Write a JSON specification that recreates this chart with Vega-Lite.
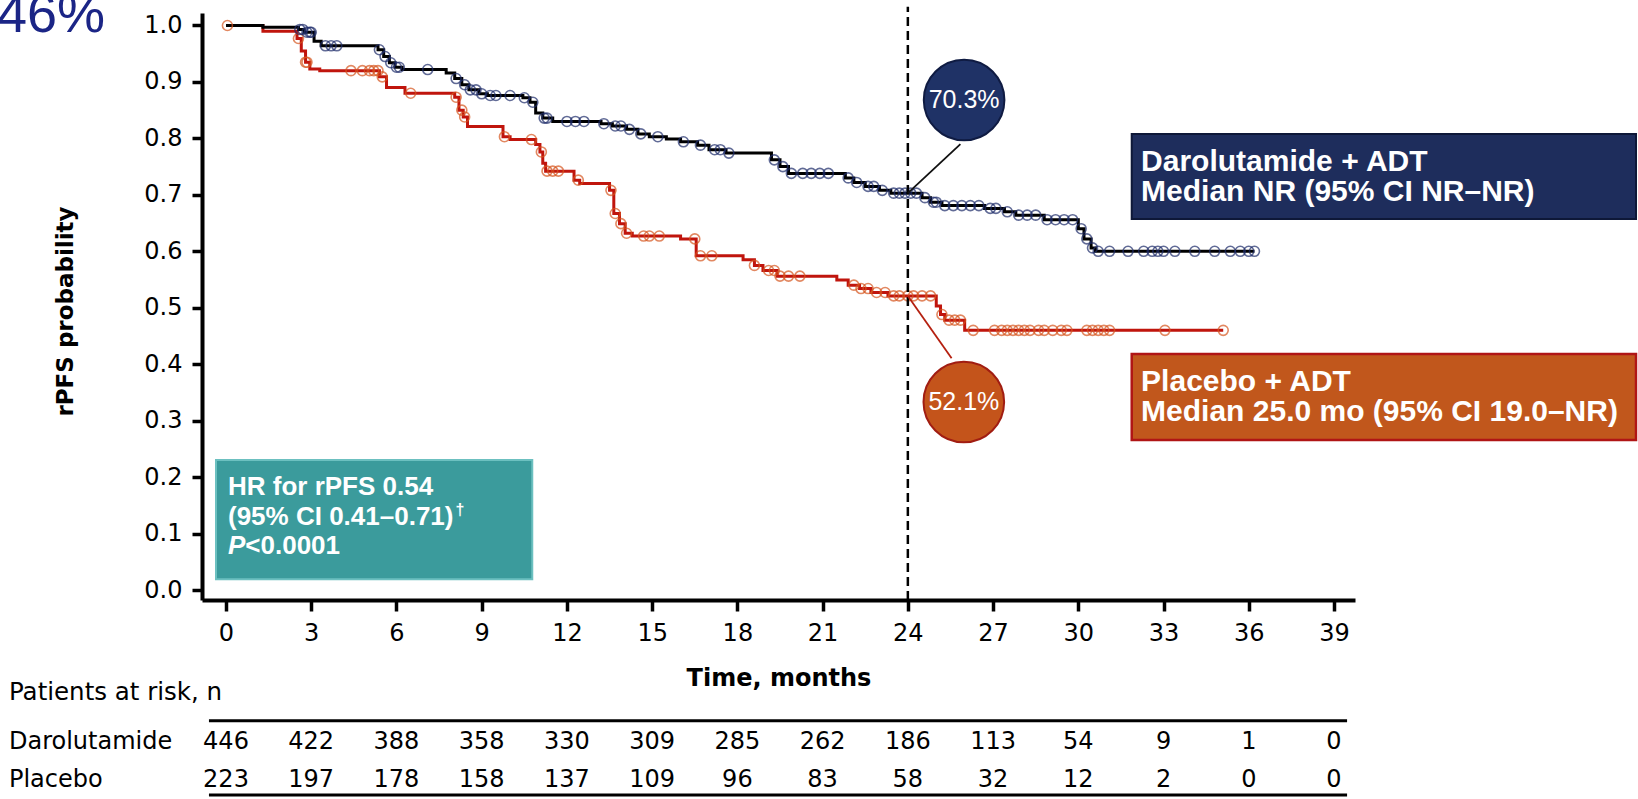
{
  "$schema": "https://vega.github.io/schema/vega-lite/v6.json",
  "width": 1153,
  "height": 587,
  "autosize": {"type": "none"},
  "padding": {"left": 202, "top": 13, "right": 283, "bottom": 199},
  "background": "white",
  "config": {"view": {"stroke": null}, "font": "DejaVu Sans"},
  "datasets": {
    "curve": [
      {"arm": "Placebo", "month": 0, "surv": 1.0},
      {"arm": "Placebo", "month": 1.3, "surv": 0.99},
      {"arm": "Placebo", "month": 2.5, "surv": 0.977},
      {"arm": "Placebo", "month": 2.65, "surv": 0.955},
      {"arm": "Placebo", "month": 2.8, "surv": 0.935},
      {"arm": "Placebo", "month": 2.95, "surv": 0.923},
      {"arm": "Placebo", "month": 3.3, "surv": 0.92},
      {"arm": "Placebo", "month": 5.4, "surv": 0.909},
      {"arm": "Placebo", "month": 5.65, "surv": 0.89},
      {"arm": "Placebo", "month": 6.3, "surv": 0.88},
      {"arm": "Placebo", "month": 8.05, "surv": 0.873},
      {"arm": "Placebo", "month": 8.2, "surv": 0.85},
      {"arm": "Placebo", "month": 8.35, "surv": 0.838},
      {"arm": "Placebo", "month": 8.5, "surv": 0.821},
      {"arm": "Placebo", "month": 9.75, "surv": 0.803},
      {"arm": "Placebo", "month": 10.0, "surv": 0.798},
      {"arm": "Placebo", "month": 10.9, "surv": 0.789},
      {"arm": "Placebo", "month": 11.05, "surv": 0.776},
      {"arm": "Placebo", "month": 11.15, "surv": 0.756},
      {"arm": "Placebo", "month": 11.25, "surv": 0.742},
      {"arm": "Placebo", "month": 12.25, "surv": 0.726},
      {"arm": "Placebo", "month": 12.45, "surv": 0.72},
      {"arm": "Placebo", "month": 13.5, "surv": 0.708},
      {"arm": "Placebo", "month": 13.65, "surv": 0.667},
      {"arm": "Placebo", "month": 13.85, "surv": 0.649},
      {"arm": "Placebo", "month": 14.05, "surv": 0.632},
      {"arm": "Placebo", "month": 14.3, "surv": 0.627},
      {"arm": "Placebo", "month": 16.0, "surv": 0.622},
      {"arm": "Placebo", "month": 16.55, "surv": 0.592},
      {"arm": "Placebo", "month": 18.2, "surv": 0.585},
      {"arm": "Placebo", "month": 18.6, "surv": 0.575},
      {"arm": "Placebo", "month": 18.9, "surv": 0.566},
      {"arm": "Placebo", "month": 19.4, "surv": 0.556},
      {"arm": "Placebo", "month": 21.5, "surv": 0.549},
      {"arm": "Placebo", "month": 21.9, "surv": 0.54},
      {"arm": "Placebo", "month": 22.3, "surv": 0.534},
      {"arm": "Placebo", "month": 22.7, "surv": 0.527},
      {"arm": "Placebo", "month": 23.3, "surv": 0.521},
      {"arm": "Placebo", "month": 25.0, "surv": 0.503},
      {"arm": "Placebo", "month": 25.15, "surv": 0.488},
      {"arm": "Placebo", "month": 25.3, "surv": 0.478},
      {"arm": "Placebo", "month": 26.0, "surv": 0.46},
      {"arm": "Placebo", "month": 35.1, "surv": 0.46},
      {"arm": "Darolutamide", "month": 0, "surv": 1.0},
      {"arm": "Darolutamide", "month": 1.3, "surv": 0.997},
      {"arm": "Darolutamide", "month": 2.55, "surv": 0.993},
      {"arm": "Darolutamide", "month": 2.75, "surv": 0.988},
      {"arm": "Darolutamide", "month": 3.1, "surv": 0.972},
      {"arm": "Darolutamide", "month": 3.35, "surv": 0.964},
      {"arm": "Darolutamide", "month": 5.35, "surv": 0.957},
      {"arm": "Darolutamide", "month": 5.55, "surv": 0.945},
      {"arm": "Darolutamide", "month": 5.75, "surv": 0.934},
      {"arm": "Darolutamide", "month": 5.95, "surv": 0.926},
      {"arm": "Darolutamide", "month": 6.2, "surv": 0.922},
      {"arm": "Darolutamide", "month": 7.75, "surv": 0.916},
      {"arm": "Darolutamide", "month": 8.05, "surv": 0.906},
      {"arm": "Darolutamide", "month": 8.3, "surv": 0.895},
      {"arm": "Darolutamide", "month": 8.55, "surv": 0.886},
      {"arm": "Darolutamide", "month": 8.9, "surv": 0.879},
      {"arm": "Darolutamide", "month": 9.2, "surv": 0.876},
      {"arm": "Darolutamide", "month": 10.45, "surv": 0.872},
      {"arm": "Darolutamide", "month": 10.7, "surv": 0.864},
      {"arm": "Darolutamide", "month": 10.9, "surv": 0.845},
      {"arm": "Darolutamide", "month": 11.15, "surv": 0.836},
      {"arm": "Darolutamide", "month": 11.5, "surv": 0.83},
      {"arm": "Darolutamide", "month": 13.2, "surv": 0.826},
      {"arm": "Darolutamide", "month": 13.6, "surv": 0.822},
      {"arm": "Darolutamide", "month": 14.1, "surv": 0.816},
      {"arm": "Darolutamide", "month": 14.5, "surv": 0.808},
      {"arm": "Darolutamide", "month": 14.9, "surv": 0.803},
      {"arm": "Darolutamide", "month": 15.5, "surv": 0.799},
      {"arm": "Darolutamide", "month": 16.0, "surv": 0.794},
      {"arm": "Darolutamide", "month": 16.6, "surv": 0.788},
      {"arm": "Darolutamide", "month": 17.0, "surv": 0.78},
      {"arm": "Darolutamide", "month": 17.6, "surv": 0.774},
      {"arm": "Darolutamide", "month": 19.2, "surv": 0.762},
      {"arm": "Darolutamide", "month": 19.5, "surv": 0.75},
      {"arm": "Darolutamide", "month": 19.8, "surv": 0.738},
      {"arm": "Darolutamide", "month": 21.8, "surv": 0.73},
      {"arm": "Darolutamide", "month": 22.1, "surv": 0.722},
      {"arm": "Darolutamide", "month": 22.5, "surv": 0.715},
      {"arm": "Darolutamide", "month": 23.0, "surv": 0.708},
      {"arm": "Darolutamide", "month": 23.4, "surv": 0.703},
      {"arm": "Darolutamide", "month": 24.5, "surv": 0.695},
      {"arm": "Darolutamide", "month": 24.8, "surv": 0.687},
      {"arm": "Darolutamide", "month": 25.2, "surv": 0.681},
      {"arm": "Darolutamide", "month": 26.7, "surv": 0.676},
      {"arm": "Darolutamide", "month": 27.4, "surv": 0.67},
      {"arm": "Darolutamide", "month": 27.8, "surv": 0.664},
      {"arm": "Darolutamide", "month": 28.8, "surv": 0.656},
      {"arm": "Darolutamide", "month": 30.0, "surv": 0.64},
      {"arm": "Darolutamide", "month": 30.2, "surv": 0.622},
      {"arm": "Darolutamide", "month": 30.45, "surv": 0.606},
      {"arm": "Darolutamide", "month": 30.6, "surv": 0.6},
      {"arm": "Darolutamide", "month": 36.2, "surv": 0.6}
    ],
    "censor": [
      {"arm": "Placebo", "month": 0.05, "surv": 1.0},
      {"arm": "Placebo", "month": 2.55, "surv": 0.977},
      {"arm": "Placebo", "month": 2.8, "surv": 0.935},
      {"arm": "Placebo", "month": 2.85, "surv": 0.935},
      {"arm": "Placebo", "month": 4.4, "surv": 0.92},
      {"arm": "Placebo", "month": 4.8, "surv": 0.92},
      {"arm": "Placebo", "month": 5.05, "surv": 0.92},
      {"arm": "Placebo", "month": 5.2, "surv": 0.92},
      {"arm": "Placebo", "month": 5.35, "surv": 0.92},
      {"arm": "Placebo", "month": 5.5, "surv": 0.909},
      {"arm": "Placebo", "month": 6.5, "surv": 0.88},
      {"arm": "Placebo", "month": 8.1, "surv": 0.873},
      {"arm": "Placebo", "month": 8.3, "surv": 0.85},
      {"arm": "Placebo", "month": 8.4, "surv": 0.838},
      {"arm": "Placebo", "month": 9.8, "surv": 0.803},
      {"arm": "Placebo", "month": 10.75, "surv": 0.798},
      {"arm": "Placebo", "month": 11.1, "surv": 0.776},
      {"arm": "Placebo", "month": 11.3, "surv": 0.742},
      {"arm": "Placebo", "month": 11.5, "surv": 0.742},
      {"arm": "Placebo", "month": 11.7, "surv": 0.742},
      {"arm": "Placebo", "month": 12.4, "surv": 0.726},
      {"arm": "Placebo", "month": 13.55, "surv": 0.708},
      {"arm": "Placebo", "month": 13.7, "surv": 0.667},
      {"arm": "Placebo", "month": 13.9, "surv": 0.649},
      {"arm": "Placebo", "month": 14.1, "surv": 0.632},
      {"arm": "Placebo", "month": 14.7, "surv": 0.627},
      {"arm": "Placebo", "month": 14.9, "surv": 0.627},
      {"arm": "Placebo", "month": 15.25, "surv": 0.627},
      {"arm": "Placebo", "month": 16.5, "surv": 0.622},
      {"arm": "Placebo", "month": 16.7, "surv": 0.592},
      {"arm": "Placebo", "month": 17.1, "surv": 0.592},
      {"arm": "Placebo", "month": 18.6, "surv": 0.575},
      {"arm": "Placebo", "month": 19.1, "surv": 0.566},
      {"arm": "Placebo", "month": 19.3, "surv": 0.566},
      {"arm": "Placebo", "month": 19.5, "surv": 0.556},
      {"arm": "Placebo", "month": 19.8, "surv": 0.556},
      {"arm": "Placebo", "month": 20.2, "surv": 0.556},
      {"arm": "Placebo", "month": 22.1, "surv": 0.54},
      {"arm": "Placebo", "month": 22.35, "surv": 0.534},
      {"arm": "Placebo", "month": 22.6, "surv": 0.534},
      {"arm": "Placebo", "month": 22.9, "surv": 0.527},
      {"arm": "Placebo", "month": 23.2, "surv": 0.527},
      {"arm": "Placebo", "month": 23.5, "surv": 0.521},
      {"arm": "Placebo", "month": 23.7, "surv": 0.521},
      {"arm": "Placebo", "month": 24.0, "surv": 0.521},
      {"arm": "Placebo", "month": 24.2, "surv": 0.521},
      {"arm": "Placebo", "month": 24.5, "surv": 0.521},
      {"arm": "Placebo", "month": 24.8, "surv": 0.521},
      {"arm": "Placebo", "month": 25.2, "surv": 0.488},
      {"arm": "Placebo", "month": 25.45, "surv": 0.478},
      {"arm": "Placebo", "month": 25.65, "surv": 0.478},
      {"arm": "Placebo", "month": 25.85, "surv": 0.478},
      {"arm": "Placebo", "month": 26.3, "surv": 0.46},
      {"arm": "Placebo", "month": 27.05, "surv": 0.46},
      {"arm": "Placebo", "month": 27.3, "surv": 0.46},
      {"arm": "Placebo", "month": 27.5, "surv": 0.46},
      {"arm": "Placebo", "month": 27.7, "surv": 0.46},
      {"arm": "Placebo", "month": 27.9, "surv": 0.46},
      {"arm": "Placebo", "month": 28.1, "surv": 0.46},
      {"arm": "Placebo", "month": 28.3, "surv": 0.46},
      {"arm": "Placebo", "month": 28.6, "surv": 0.46},
      {"arm": "Placebo", "month": 28.8, "surv": 0.46},
      {"arm": "Placebo", "month": 29.1, "surv": 0.46},
      {"arm": "Placebo", "month": 29.4, "surv": 0.46},
      {"arm": "Placebo", "month": 29.6, "surv": 0.46},
      {"arm": "Placebo", "month": 30.3, "surv": 0.46},
      {"arm": "Placebo", "month": 30.5, "surv": 0.46},
      {"arm": "Placebo", "month": 30.7, "surv": 0.46},
      {"arm": "Placebo", "month": 30.9, "surv": 0.46},
      {"arm": "Placebo", "month": 31.1, "surv": 0.46},
      {"arm": "Placebo", "month": 33.05, "surv": 0.46},
      {"arm": "Placebo", "month": 35.1, "surv": 0.46},
      {"arm": "Darolutamide", "month": 2.6, "surv": 0.993},
      {"arm": "Darolutamide", "month": 2.7, "surv": 0.993},
      {"arm": "Darolutamide", "month": 2.85, "surv": 0.988},
      {"arm": "Darolutamide", "month": 2.95, "surv": 0.988},
      {"arm": "Darolutamide", "month": 3.0, "surv": 0.988},
      {"arm": "Darolutamide", "month": 3.5, "surv": 0.964},
      {"arm": "Darolutamide", "month": 3.7, "surv": 0.964},
      {"arm": "Darolutamide", "month": 3.9, "surv": 0.964},
      {"arm": "Darolutamide", "month": 5.4, "surv": 0.957},
      {"arm": "Darolutamide", "month": 5.6, "surv": 0.945},
      {"arm": "Darolutamide", "month": 5.8, "surv": 0.934},
      {"arm": "Darolutamide", "month": 6.0, "surv": 0.926},
      {"arm": "Darolutamide", "month": 6.1, "surv": 0.926},
      {"arm": "Darolutamide", "month": 7.1, "surv": 0.922},
      {"arm": "Darolutamide", "month": 8.1, "surv": 0.906},
      {"arm": "Darolutamide", "month": 8.4, "surv": 0.895},
      {"arm": "Darolutamide", "month": 8.6, "surv": 0.886},
      {"arm": "Darolutamide", "month": 8.8, "surv": 0.886},
      {"arm": "Darolutamide", "month": 9.0, "surv": 0.879},
      {"arm": "Darolutamide", "month": 9.3, "surv": 0.876},
      {"arm": "Darolutamide", "month": 9.5, "surv": 0.876},
      {"arm": "Darolutamide", "month": 10.0, "surv": 0.876},
      {"arm": "Darolutamide", "month": 10.5, "surv": 0.872},
      {"arm": "Darolutamide", "month": 10.8, "surv": 0.864},
      {"arm": "Darolutamide", "month": 11.2, "surv": 0.836},
      {"arm": "Darolutamide", "month": 11.3, "surv": 0.836},
      {"arm": "Darolutamide", "month": 12.0, "surv": 0.83},
      {"arm": "Darolutamide", "month": 12.3, "surv": 0.83},
      {"arm": "Darolutamide", "month": 12.6, "surv": 0.83},
      {"arm": "Darolutamide", "month": 13.3, "surv": 0.826},
      {"arm": "Darolutamide", "month": 13.7, "surv": 0.822},
      {"arm": "Darolutamide", "month": 13.9, "surv": 0.822},
      {"arm": "Darolutamide", "month": 14.2, "surv": 0.816},
      {"arm": "Darolutamide", "month": 14.6, "surv": 0.808},
      {"arm": "Darolutamide", "month": 15.2, "surv": 0.803},
      {"arm": "Darolutamide", "month": 16.1, "surv": 0.794},
      {"arm": "Darolutamide", "month": 16.7, "surv": 0.788},
      {"arm": "Darolutamide", "month": 17.2, "surv": 0.78},
      {"arm": "Darolutamide", "month": 17.4, "surv": 0.78},
      {"arm": "Darolutamide", "month": 17.7, "surv": 0.774},
      {"arm": "Darolutamide", "month": 19.3, "surv": 0.762},
      {"arm": "Darolutamide", "month": 19.6, "surv": 0.75},
      {"arm": "Darolutamide", "month": 19.9, "surv": 0.738},
      {"arm": "Darolutamide", "month": 20.3, "surv": 0.738},
      {"arm": "Darolutamide", "month": 20.6, "surv": 0.738},
      {"arm": "Darolutamide", "month": 20.9, "surv": 0.738},
      {"arm": "Darolutamide", "month": 21.2, "surv": 0.738},
      {"arm": "Darolutamide", "month": 21.9, "surv": 0.73},
      {"arm": "Darolutamide", "month": 22.2, "surv": 0.722},
      {"arm": "Darolutamide", "month": 22.6, "surv": 0.715},
      {"arm": "Darolutamide", "month": 22.8, "surv": 0.715},
      {"arm": "Darolutamide", "month": 23.1, "surv": 0.708},
      {"arm": "Darolutamide", "month": 23.5, "surv": 0.703},
      {"arm": "Darolutamide", "month": 23.7, "surv": 0.703},
      {"arm": "Darolutamide", "month": 23.9, "surv": 0.703},
      {"arm": "Darolutamide", "month": 24.1, "surv": 0.703},
      {"arm": "Darolutamide", "month": 24.3, "surv": 0.703},
      {"arm": "Darolutamide", "month": 24.6, "surv": 0.695},
      {"arm": "Darolutamide", "month": 24.9, "surv": 0.687},
      {"arm": "Darolutamide", "month": 25.0, "surv": 0.687},
      {"arm": "Darolutamide", "month": 25.3, "surv": 0.681},
      {"arm": "Darolutamide", "month": 25.6, "surv": 0.681},
      {"arm": "Darolutamide", "month": 25.9, "surv": 0.681},
      {"arm": "Darolutamide", "month": 26.2, "surv": 0.681},
      {"arm": "Darolutamide", "month": 26.5, "surv": 0.681},
      {"arm": "Darolutamide", "month": 26.9, "surv": 0.676},
      {"arm": "Darolutamide", "month": 27.1, "surv": 0.676},
      {"arm": "Darolutamide", "month": 27.5, "surv": 0.67},
      {"arm": "Darolutamide", "month": 27.9, "surv": 0.664},
      {"arm": "Darolutamide", "month": 28.2, "surv": 0.664},
      {"arm": "Darolutamide", "month": 28.5, "surv": 0.664},
      {"arm": "Darolutamide", "month": 28.9, "surv": 0.656},
      {"arm": "Darolutamide", "month": 29.2, "surv": 0.656},
      {"arm": "Darolutamide", "month": 29.5, "surv": 0.656},
      {"arm": "Darolutamide", "month": 29.8, "surv": 0.656},
      {"arm": "Darolutamide", "month": 30.1, "surv": 0.64},
      {"arm": "Darolutamide", "month": 30.3, "surv": 0.622},
      {"arm": "Darolutamide", "month": 30.5, "surv": 0.606},
      {"arm": "Darolutamide", "month": 30.7, "surv": 0.6},
      {"arm": "Darolutamide", "month": 31.1, "surv": 0.6},
      {"arm": "Darolutamide", "month": 31.75, "surv": 0.6},
      {"arm": "Darolutamide", "month": 32.3, "surv": 0.6},
      {"arm": "Darolutamide", "month": 32.6, "surv": 0.6},
      {"arm": "Darolutamide", "month": 32.8, "surv": 0.6},
      {"arm": "Darolutamide", "month": 33.0, "surv": 0.6},
      {"arm": "Darolutamide", "month": 33.4, "surv": 0.6},
      {"arm": "Darolutamide", "month": 34.1, "surv": 0.6},
      {"arm": "Darolutamide", "month": 34.8, "surv": 0.6},
      {"arm": "Darolutamide", "month": 35.35, "surv": 0.6},
      {"arm": "Darolutamide", "month": 35.7, "surv": 0.6},
      {"arm": "Darolutamide", "month": 36.0, "surv": 0.6},
      {"arm": "Darolutamide", "month": 36.2, "surv": 0.6}
    ],
    "risk": [
      {"arm": "Darolutamide", "month": 0, "n": 446},
      {"arm": "Darolutamide", "month": 3, "n": 422},
      {"arm": "Darolutamide", "month": 6, "n": 388},
      {"arm": "Darolutamide", "month": 9, "n": 358},
      {"arm": "Darolutamide", "month": 12, "n": 330},
      {"arm": "Darolutamide", "month": 15, "n": 309},
      {"arm": "Darolutamide", "month": 18, "n": 285},
      {"arm": "Darolutamide", "month": 21, "n": 262},
      {"arm": "Darolutamide", "month": 24, "n": 186},
      {"arm": "Darolutamide", "month": 27, "n": 113},
      {"arm": "Darolutamide", "month": 30, "n": 54},
      {"arm": "Darolutamide", "month": 33, "n": 9},
      {"arm": "Darolutamide", "month": 36, "n": 1},
      {"arm": "Darolutamide", "month": 39, "n": 0},
      {"arm": "Placebo", "month": 0, "n": 223},
      {"arm": "Placebo", "month": 3, "n": 197},
      {"arm": "Placebo", "month": 6, "n": 178},
      {"arm": "Placebo", "month": 9, "n": 158},
      {"arm": "Placebo", "month": 12, "n": 137},
      {"arm": "Placebo", "month": 15, "n": 109},
      {"arm": "Placebo", "month": 18, "n": 96},
      {"arm": "Placebo", "month": 21, "n": 83},
      {"arm": "Placebo", "month": 24, "n": 58},
      {"arm": "Placebo", "month": 27, "n": 32},
      {"arm": "Placebo", "month": 30, "n": 12},
      {"arm": "Placebo", "month": 33, "n": 2},
      {"arm": "Placebo", "month": 36, "n": 0},
      {"arm": "Placebo", "month": 39, "n": 0}
    ]
  },
  "layer": [
    {
      "data": {"name": "curve"},
      "transform": [{"filter": "datum.arm === 'Placebo'"}],
      "mark": {"type": "line", "interpolate": "step-after", "strokeWidth": 3},
      "encoding": {
        "x": {
          "field": "month", "type": "quantitative",
          "scale": {"domain": [-0.8448, 39.739], "nice": false, "zero": false},
          "axis": {
            "values": [0, 3, 6, 9, 12, 15, 18, 21, 24, 27, 30, 33, 36, 39],
            "grid": false,
            "domainColor": "black", "domainWidth": 4,
            "tickColor": "black", "tickWidth": 3.5, "tickSize": 11,
            "labelFont": "DejaVu Sans", "labelFontSize": 24, "labelColor": "black",
            "labelPadding": 10, "labelFlush": false, "labelOverlap": false,
            "title": "Time, months",
            "titleFont": "DejaVu Sans", "titleFontSize": 24, "titleFontWeight": "bold",
            "titleColor": "black", "titleY": 78, "titleBaseline": "middle"
          }
        },
        "y": {
          "field": "surv", "type": "quantitative",
          "scale": {"domain": [-0.01771, 1.02214], "nice": false, "zero": false},
          "axis": {
            "values": [0, 0.1, 0.2, 0.3, 0.4, 0.5, 0.6, 0.7, 0.8, 0.9, 1.0],
            "format": ".1f",
            "grid": false,
            "domainColor": "black", "domainWidth": 4,
            "tickColor": "black", "tickWidth": 3.5, "tickSize": 10,
            "labelFont": "DejaVu Sans", "labelFontSize": 24, "labelColor": "black",
            "labelPadding": 10, "labelFlush": false, "labelOverlap": false,
            "title": "rPFS probability",
            "titleFont": "DejaVu Sans", "titleFontSize": 23, "titleFontWeight": "bold",
            "titleColor": "black", "titleAngle": 270,
            "titleX": -137, "titleY": 298, "titleAlign": "center", "titleBaseline": "middle"
          }
        },
        "color": {
          "field": "arm", "type": "nominal",
          "scale": {"domain": ["Darolutamide", "Placebo"], "range": ["#000000", "#c0150d"]},
          "legend": null
        }
      }
    },
    {
      "data": {"name": "curve"},
      "transform": [{"filter": "datum.arm === 'Darolutamide'"}],
      "mark": {"type": "line", "interpolate": "step-after", "strokeWidth": 3},
      "encoding": {
        "x": {"field": "month", "type": "quantitative"},
        "y": {"field": "surv", "type": "quantitative"},
        "color": {"field": "arm", "type": "nominal", "legend": null}
      }
    },
    {
      "data": {"name": "censor"},
      "mark": {"type": "point", "shape": "circle", "filled": false, "size": 100, "strokeWidth": 1.6},
      "encoding": {
        "x": {"field": "month", "type": "quantitative"},
        "y": {"field": "surv", "type": "quantitative"},
        "stroke": {
          "field": "arm", "type": "nominal",
          "scale": {"domain": ["Darolutamide", "Placebo"], "range": ["#1f2d6b", "#d6561f"]},
          "legend": null
        }
      }
    },
    {
      "data": {"values": [{}]},
      "mark": {"type": "rule", "strokeDash": [9, 5], "strokeWidth": 2.5, "color": "black"},
      "encoding": {"x": {"datum": 24}, "y": {"datum": -0.0177}, "y2": {"datum": 1.0333}}
    },
    {
      "data": {"values": [{}]},
      "mark": {"type": "rule", "strokeWidth": 1.8, "color": "#111111"},
      "encoding": {"x": {"datum": 24}, "y": {"datum": 0.703}, "x2": {"datum": 25.85}, "y2": {"datum": 0.79}}
    },
    {
      "data": {"values": [{}]},
      "mark": {"type": "rule", "strokeWidth": 1.8, "color": "#b52010"},
      "encoding": {"x": {"datum": 24}, "y": {"datum": 0.521}, "x2": {"datum": 25.54}, "y2": {"datum": 0.4104}}
    },
    {
      "data": {"values": [{}]},
      "mark": {"type": "point", "shape": "circle", "filled": true, "size": 6500, "fill": "#1f3266", "stroke": "#0f1b42", "strokeWidth": 2, "opacity": 1},
      "encoding": {"x": {"datum": 25.98}, "y": {"datum": 0.868}}
    },
    {
      "data": {"values": [{}]},
      "mark": {"type": "point", "shape": "circle", "filled": true, "size": 6500, "fill": "#c4541b", "stroke": "#a11d12", "strokeWidth": 2, "opacity": 1},
      "encoding": {"x": {"datum": 25.97}, "y": {"datum": 0.333}}
    },
    {
      "data": {"values": [{}]},
      "mark": {"type": "text", "text": "70.3%", "font": "Liberation Sans", "fontSize": 25, "color": "white", "align": "center", "baseline": "middle"},
      "encoding": {"x": {"datum": 25.98}, "y": {"datum": 0.868}}
    },
    {
      "data": {"values": [{}]},
      "mark": {"type": "text", "text": "52.1%", "font": "Liberation Sans", "fontSize": 25, "color": "white", "align": "center", "baseline": "middle"},
      "encoding": {"x": {"datum": 25.97}, "y": {"datum": 0.333}}
    },
    {
      "data": {"values": [{}]},
      "mark": {"type": "rect", "fill": "#1e2d5c", "stroke": "#0e1838", "strokeWidth": 2},
      "encoding": {"x": {"datum": 31.88}, "x2": {"datum": 49.63}, "y": {"datum": 0.8078}, "y2": {"datum": 0.6572}}
    },
    {
      "data": {"values": [{}]},
      "mark": {"type": "text", "text": "Darolutamide + ADT", "font": "Liberation Sans", "fontWeight": "bold", "fontSize": 30, "color": "white", "align": "left", "baseline": "middle"},
      "encoding": {"x": {"datum": 32.21}, "y": {"datum": 0.7582}}
    },
    {
      "data": {"values": [{}]},
      "mark": {"type": "text", "text": "Median NR (95% CI NR\u2013NR)", "font": "Liberation Sans", "fontWeight": "bold", "fontSize": 30, "color": "white", "align": "left", "baseline": "middle"},
      "encoding": {"x": {"datum": 32.21}, "y": {"datum": 0.7051}}
    },
    {
      "data": {"values": [{}]},
      "mark": {"type": "rect", "fill": "#c1571c", "stroke": "#b01515", "strokeWidth": 2.5},
      "encoding": {"x": {"datum": 31.88}, "x2": {"datum": 49.63}, "y": {"datum": 0.4181}, "y2": {"datum": 0.2657}}
    },
    {
      "data": {"values": [{}]},
      "mark": {"type": "text", "text": "Placebo + ADT", "font": "Liberation Sans", "fontWeight": "bold", "fontSize": 30, "color": "white", "align": "left", "baseline": "middle"},
      "encoding": {"x": {"datum": 32.21}, "y": {"datum": 0.3685}}
    },
    {
      "data": {"values": [{}]},
      "mark": {"type": "text", "text": "Median 25.0 mo (95% CI 19.0\u2013NR)", "font": "Liberation Sans", "fontWeight": "bold", "fontSize": 30, "color": "white", "align": "left", "baseline": "middle"},
      "encoding": {"x": {"datum": 32.21}, "y": {"datum": 0.3154}}
    },
    {
      "data": {"values": [{}]},
      "mark": {"type": "rect", "fill": "#3b9b9c", "stroke": "#6cc0c0", "strokeWidth": 2},
      "encoding": {"x": {"datum": -0.352}, "x2": {"datum": 10.78}, "y": {"datum": 0.2303}, "y2": {"datum": 0.019}}
    },
    {
      "data": {"values": [{}]},
      "mark": {"type": "text", "text": "HR for rPFS 0.54", "font": "Liberation Sans", "fontWeight": "bold", "fontSize": 26, "color": "white", "align": "left", "baseline": "middle"},
      "encoding": {"x": {"datum": 0.07}, "y": {"datum": 0.1832}}
    },
    {
      "data": {"values": [{}]},
      "mark": {"type": "text", "text": "(95% CI 0.41\u20130.71)", "font": "Liberation Sans", "fontWeight": "bold", "fontSize": 26, "color": "white", "align": "left", "baseline": "middle"},
      "encoding": {"x": {"datum": 0.07}, "y": {"datum": 0.1298}}
    },
    {
      "data": {"values": [{}]},
      "mark": {"type": "text", "text": "\u2020", "font": "Liberation Sans", "fontWeight": "bold", "fontSize": 16, "color": "white", "align": "left", "baseline": "middle"},
      "encoding": {"x": {"datum": 8.08}, "y": {"datum": 0.1417}}
    },
    {
      "data": {"values": [{}]},
      "mark": {"type": "text", "text": "P", "font": "Liberation Sans", "fontWeight": "bold", "fontStyle": "italic", "fontSize": 26, "color": "white", "align": "left", "baseline": "middle"},
      "encoding": {"x": {"datum": 0.07}, "y": {"datum": 0.0779}}
    },
    {
      "data": {"values": [{}]},
      "mark": {"type": "text", "text": "<0.0001", "font": "Liberation Sans", "fontWeight": "bold", "fontSize": 26, "color": "white", "align": "left", "baseline": "middle"},
      "encoding": {"x": {"datum": 0.68}, "y": {"datum": 0.0779}}
    },
    {
      "data": {"values": [{}]},
      "mark": {"type": "text", "text": "46%", "font": "Liberation Sans", "fontSize": 54, "color": "#1b2586", "align": "right", "baseline": "alphabetic"},
      "encoding": {"x": {"datum": -4.26}, "y": {"datum": 0.9885}}
    },
    {
      "data": {"values": [{}]},
      "mark": {"type": "text", "text": "Patients at risk, n", "font": "DejaVu Sans", "fontSize": 24.5, "color": "black", "align": "left", "baseline": "middle"},
      "encoding": {"x": {"datum": -7.64}, "y": {"datum": -0.1818}}
    },
    {
      "data": {"values": [{}]},
      "mark": {"type": "rule", "strokeWidth": 3, "color": "black"},
      "encoding": {"x": {"datum": -0.6}, "x2": {"datum": 39.46}, "y": {"datum": -0.2315}}
    },
    {
      "data": {"values": [{}]},
      "mark": {"type": "rule", "strokeWidth": 3, "color": "black"},
      "encoding": {"x": {"datum": -0.6}, "x2": {"datum": 39.46}, "y": {"datum": -0.3632}}
    },
    {
      "data": {"values": [{}]},
      "mark": {"type": "text", "text": "Darolutamide", "font": "DejaVu Sans", "fontSize": 24, "color": "black", "align": "left", "baseline": "middle"},
      "encoding": {"x": {"datum": -7.64}, "y": {"datum": -0.2701}}
    },
    {
      "data": {"values": [{}]},
      "mark": {"type": "text", "text": "Placebo", "font": "DejaVu Sans", "fontSize": 24, "color": "black", "align": "left", "baseline": "middle"},
      "encoding": {"x": {"datum": -7.64}, "y": {"datum": -0.3357}}
    },
    {
      "data": {"name": "risk"},
      "transform": [{"filter": "datum.arm === 'Darolutamide'"}],
      "mark": {"type": "text", "font": "DejaVu Sans", "fontSize": 24, "color": "black", "align": "center", "baseline": "middle"},
      "encoding": {"x": {"field": "month", "type": "quantitative"}, "y": {"datum": -0.2701}, "text": {"field": "n", "type": "quantitative"}}
    },
    {
      "data": {"name": "risk"},
      "transform": [{"filter": "datum.arm === 'Placebo'"}],
      "mark": {"type": "text", "font": "DejaVu Sans", "fontSize": 24, "color": "black", "align": "center", "baseline": "middle"},
      "encoding": {"x": {"field": "month", "type": "quantitative"}, "y": {"datum": -0.3357}, "text": {"field": "n", "type": "quantitative"}}
    }
  ]
}
